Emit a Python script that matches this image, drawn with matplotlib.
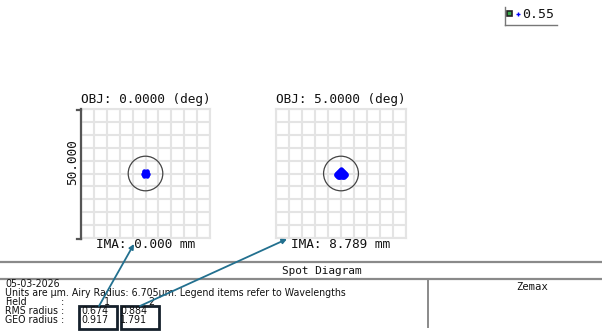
import matplotlib
matplotlib.use("Agg")
import matplotlib.pyplot as plt
from matplotlib.patches import Circle, Rectangle
from matplotlib import font_manager
from matplotlib.font_manager import FontProperties

# ---------------- data ----------------
field_titles = ["OBJ: 0.0000 (deg)", "OBJ: 5.0000 (deg)"]
ima_labels = ["IMA: 0.000 mm", "IMA: 8.789 mm"]
scale_label = "50.000"
half_width_um = 25.0
airy_radius_um = 6.705
wavelength_label = "0.55"

spot1_x = [0.0, 0.3, 0.15, -0.15, -0.3, -0.15, 0.15, 0.6, 0.45, 0.0, -0.45, -0.6,
           -0.45, 0.0, 0.45, 0.9, 0.45, -0.45, -0.9, -0.45, 0.45]
spot1_y = [0.0, 0.0, 0.26, 0.26, 0.0, -0.26, -0.26, 0.0, 0.4, 0.6, 0.4, 0.0,
           -0.4, -0.6, -0.4, 0.0, 0.78, 0.78, 0.0, -0.78, -0.78]

spot2_x = [0.0,
           -0.3, 0.0, 0.3,
           -0.6, -0.3, 0.0, 0.3, 0.6,
           -1.0, -0.6, -0.2, 0.2, 0.6, 1.0,
           -1.4, -1.0, -0.6, -0.2, 0.2, 0.6, 1.0, 1.4,
           -1.8, -1.4, -1.0, -0.6, -0.2, 0.2, 0.6, 1.0, 1.4, 1.8,
           -1.9, -1.5, -1.1, -0.7, -0.3, 0.1, 0.5, 0.9, 1.3, 1.7, 1.9,
           -1.6, -1.2, -0.8, -0.4, 0.0, 0.4, 0.8, 1.2, 1.6,
           -1.0, -0.6, -0.2, 0.2, 0.6, 1.0]
spot2_y = [1.8,
           1.4, 1.4, 1.4,
           1.0, 1.0, 1.0, 1.0, 1.0,
           0.6, 0.6, 0.6, 0.6, 0.6, 0.6,
           0.2, 0.2, 0.2, 0.2, 0.2, 0.2, 0.2, 0.2,
           -0.2, -0.2, -0.2, -0.2, -0.2, -0.2, -0.2, -0.2, -0.2, -0.2,
           -0.6, -0.6, -0.6, -0.6, -0.6, -0.6, -0.6, -0.6, -0.6, -0.6, -0.6,
           -1.0, -1.0, -1.0, -1.0, -1.0, -1.0, -1.0, -1.0, -1.0,
           -1.3, -1.3, -1.3, -1.3, -1.3, -1.3]

spots_x = [spot1_x, spot2_x]
spots_y = [spot1_y, spot2_y]

date_text = "05-03-2026"
units_text = "Units are \u00b5m. Airy Radius: 6.705\u00b5m. Legend items refer to Wavelengths"
field_numbers = ["1", "2"]
rms_radius = ["0.674", "0.884"]
geo_radius = ["0.917", "1.791"]
title_text = "Spot Diagram"
brand_text = "Zemax"

# ---------------- figure ----------------
W, H = 602, 332
fig = plt.figure(figsize=(W / 100, H / 100), dpi=100)
mono = "DejaVu Sans Mono"

# choose a condensed font for the footer if one exists
cond_prop = FontProperties(family="DejaVu Sans", stretch="condensed")
cond_path = font_manager.findfont(cond_prop, fallback_to_default=True)
if "ondensed" in cond_path:
    small_prop = dict(family="DejaVu Sans", fontstretch="condensed")
else:
    small_prop = dict(family=mono)

# spot axes
axes_px = [(81, 109, 129, 129), (276, 109, 130, 129)]
grid_col = "#e4e4e4"
for i, (x0, y0, w, h) in enumerate(axes_px):
    ax = fig.add_axes([x0 / W, 1 - (y0 + h) / H, w / W, h / H])
    ax.set_xlim(-half_width_um, half_width_um)
    ax.set_ylim(-half_width_um, half_width_um)
    ticks = [-25, -20, -15, -10, -5, 0, 5, 10, 15, 20, 25]
    ax.set_xticks(ticks)
    ax.set_yticks(ticks)
    ax.tick_params(length=0, labelbottom=False, labelleft=False)
    ax.grid(True, color=grid_col, lw=1.5)
    ax.set_axisbelow(True)
    for s in ax.spines.values():
        s.set_color(grid_col)
        s.set_linewidth(1.5)
    ax.add_patch(Circle((0, 0), airy_radius_um, fill=False, ec="#444444", lw=0.9, zorder=3))
    ax.plot(spots_x[i], spots_y[i], "o", color="#0000ff", ms=3.2, mec="none", zorder=4)

# overlay axes in pixel coordinates (on top)
ov = fig.add_axes([0, 0, 1, 1])
ov.set_xlim(0, W)
ov.set_ylim(H, 0)
ov.axis("off")
ov.patch.set_alpha(0)
ov.set_zorder(10)

for i, (x0, y0, w, h) in enumerate(axes_px):
    cx = x0 + w / 2
    ov.text(cx, y0 - 9, field_titles[i], family=mono, fontsize=9.2, ha="center", va="center", color="#111111")
    ov.text(cx, y0 + h + 7, ima_labels[i], family=mono, fontsize=9.2, ha="center", va="center", color="#111111")

# scale bar on first plot
sb_x = 81
ov.plot([sb_x, sb_x], [109, 239], color="#555555", lw=1.6, zorder=5)
ov.plot([77, sb_x], [109.5, 109.5], color="#555555", lw=1.6, zorder=5)
ov.plot([77, sb_x], [238.5, 238.5], color="#555555", lw=1.6, zorder=5)
ov.text(73, 162, scale_label, family=mono, fontsize=9.2, rotation=90, ha="center", va="center", color="#111111")

# legend top-right
ov.plot([505, 505], [7, 25], color="#777777", lw=1.0)
ov.plot([505, 557], [25, 25], color="#777777", lw=1.0)
ov.add_patch(Rectangle((507, 11), 5, 5, fc="#3aa84a", ec="#222222", lw=1.2))
ov.plot([517.5], [13.5], "+", color="#0000ff", ms=3.5, mew=1.0)
ov.text(522, 14, wavelength_label, family=mono, fontsize=9.5, ha="left", va="center", color="#111111")

# bottom frame
line_col = "#8a8a8a"
ov.plot([0, W], [262, 262], color=line_col, lw=1.6)
ov.plot([0, W], [279, 279], color=line_col, lw=1.6)
ov.plot([428, 428], [279, 327], color=line_col, lw=1.4)
ov.text(322, 270.5, title_text, family=mono, fontsize=7.9, ha="center", va="center", color="#111111")
ov.text(532, 287, brand_text, family=mono, fontsize=7.6, ha="center", va="center", color="#111111")

# footer text, sized so the units line spans like the reference
units_t = ov.text(5, 293, units_text, fontsize=7.0, ha="left", va="center", color="#111111", **small_prop)
fig.canvas.draw()
bw = units_t.get_window_extent().width
fs = 7.0 * 342.0 / bw
units_t.set_fontsize(fs)

ov.text(5, 284, date_text, fontsize=fs, ha="left", va="center", color="#111111", **small_prop)
ov.text(5, 302, "Field", fontsize=fs, ha="left", va="center", color="#111111", **small_prop)
ov.text(5, 311, "RMS radius", fontsize=fs, ha="left", va="center", color="#111111", **small_prop)
ov.text(5, 320, "GEO radius", fontsize=fs, ha="left", va="center", color="#111111", **small_prop)
for yy in (302, 311, 320):
    ov.text(63, yy, ":", fontsize=fs, ha="center", va="center", color="#111111", **small_prop)
col_right = [108, 147]
col_num = [107, 151]
for j in range(2):
    ov.text(col_num[j], 302, field_numbers[j], fontsize=fs, ha="center", va="center", color="#111111", **small_prop)
    ov.text(col_right[j], 311, rms_radius[j], fontsize=fs, ha="right", va="center", color="#111111", **small_prop)
    ov.text(col_right[j], 320, geo_radius[j], fontsize=fs, ha="right", va="center", color="#111111", **small_prop)

# boxes
ov.add_patch(Rectangle((79, 305.5), 38, 23.5, fill=False, ec="#15202b", lw=2.0))
ov.add_patch(Rectangle((121, 305.5), 38, 23.5, fill=False, ec="#15202b", lw=2.0))

# arrows
arrow_col = "#22708f"
ov.annotate("", xy=(134, 244), xytext=(99, 306),
            arrowprops=dict(arrowstyle="-|>", color=arrow_col, lw=1.3, mutation_scale=7, shrinkA=0, shrinkB=0))
ov.annotate("", xy=(287, 239), xytext=(140, 306),
            arrowprops=dict(arrowstyle="-|>", color=arrow_col, lw=1.3, mutation_scale=7, shrinkA=0, shrinkB=0))

fig.savefig("out.png", dpi=100)
